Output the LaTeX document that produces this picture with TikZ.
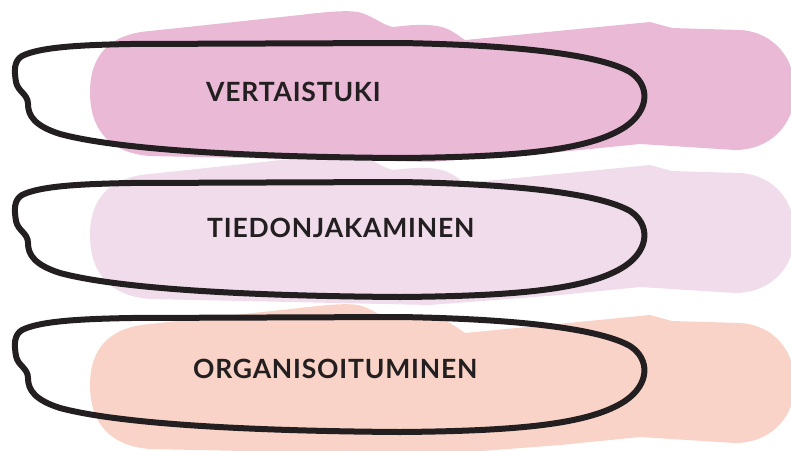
\documentclass[tikz,border=0pt]{standalone}
\usepackage{fontspec}
\setmainfont{Lato}[LetterSpace=3]
\usepackage{tikz}

\definecolor{ink}{RGB}{35,31,32}
\definecolor{pinkA}{RGB}{234,185,214}
\definecolor{lilacB}{RGB}{240,220,235}
\definecolor{peachC}{RGB}{249,211,199}

\begin{document}
\begin{tikzpicture}[x=1pt,y=-1pt]
        \tikzstyle{every node} = [inner sep=0pt, text=ink, font=\fontsize{26.5}{30}\selectfont\bfseries]
        \tikzstyle{brush} = [line width=0pt]
        \tikzstyle{loopline} = [draw=ink, line width=6pt, line join=round]
        \useasboundingbox (0,0) rectangle (791,450);
        \clip (0,0) rectangle (791,450);

        % brush strokes
        \foreach \dy/\col in {0/pinkA, 143/lilacB, 293/peachC}
            \fill[brush, \col, shift={(0,\dy)}] (90,92)
                .. controls (90,55) and (110,34) .. (150,31)
                -- (300,15) .. controls (325,12) and (345,10) .. (358,12)
                .. controls (372,15) and (382,25) .. (393,27)
                .. controls (410,25) and (430,23) .. (445,28)
                .. controls (455,32) and (460,37) .. (465,40)
                -- (650,22) -- (672,28) -- (740,30)
                .. controls (775,32) and (795,60) .. (795,90)
                .. controls (795,125) and (770,150) .. (735,150)
                -- (640,144) -- (560,152) -- (430,162)
                -- (150,156)
                .. controls (110,153) and (90,130) .. (90,92) -- cycle;

        % hand drawn loops
        \foreach \dy in {0,139,274}
            \draw[loopline, shift={(0,\dy)}] (22,56)
                .. controls (40,47) and (80,45) .. (130,44)
                -- (400,43)
                .. controls (520,45) and (600,55) .. (630,72)
                .. controls (650,85) and (650,110) .. (625,127)
                .. controls (590,150) and (520,157) .. (400,158)
                .. controls (250,157) and (120,150) .. (60,134)
                .. controls (35,126) and (28,116) .. (28,104)
                .. controls (28,94) and (18,92) .. (16,82)
                .. controls (14,70) and (14,61) .. (22,56) -- cycle;

        \node[anchor=base west] (0) at (206,101) {VERTAISTUKI};
        \node[anchor=base west] (1) at (207,237) {TIEDONJAKAMINEN};
        \node[anchor=base west] (2) at (193,378) {ORGANISOITUMINEN};
\end{tikzpicture}
\end{document}
